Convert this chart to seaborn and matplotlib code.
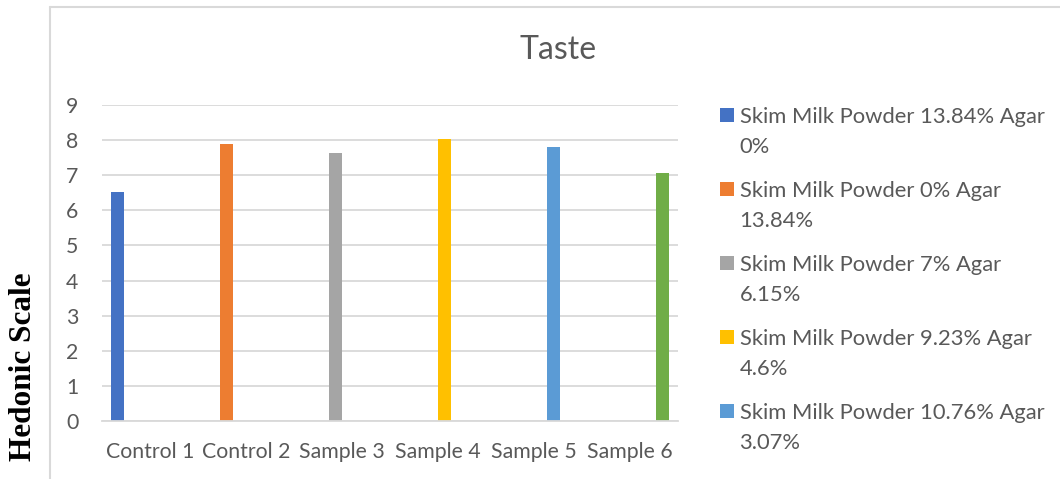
import matplotlib
matplotlib.use("Agg")
import matplotlib.pyplot as plt
from matplotlib.lines import Line2D
from matplotlib.patches import Rectangle
from matplotlib.legend_handler import HandlerPatch
import pandas as pd
import seaborn as sns

# Taste scores (hedonic scale) for each formulation
categories = ["Control 1", "Control 2", "Sample 3", "Sample 4", "Sample 5", "Sample 6"]
series = [
    "Skim Milk Powder 13.84% Agar 0%",
    "Skim Milk Powder 0% Agar 13.84%",
    "Skim Milk Powder 7% Agar 6.15%",
    "Skim Milk Powder 9.23% Agar 4.6%",
    "Skim Milk Powder 10.76% Agar 3.07%",
    "Skim Milk Powder 12.3% Agar 1.54%",
]
legend_labels = [
    "Skim Milk Powder 13.84% Agar\n0%",
    "Skim Milk Powder 0% Agar\n13.84%",
    "Skim Milk Powder 7% Agar\n6.15%",
    "Skim Milk Powder 9.23% Agar\n4.6%",
    "Skim Milk Powder 10.76% Agar\n3.07%",
]
scores = [6.52, 7.89, 7.63, 8.03, 7.81, 7.07]
colors = ["#4472C4", "#ED7D31", "#A5A5A5", "#FFC000", "#5B9BD5", "#70AD47"]

df = pd.DataFrame({"Formulation": categories, "Series": series, "Score": scores})

sns.set_theme(style="white")
plt.rcParams["font.family"] = ["Lato", "DejaVu Sans"]
text_color = "#595959"
grid_color = "#D9D9D9"

fig = plt.figure(figsize=(10.6, 4.79), dpi=100)
ax = fig.add_axes([102 / 1060, 1 - 421 / 479, 576 / 1060, 316 / 479])

sns.barplot(
    data=df, x="Formulation", y="Score", hue="Series",
    order=categories, hue_order=series, palette=colors,
    width=0.81, gap=0, dodge=True, ax=ax, legend=False,
    saturation=1, linewidth=0,
)

ax.set_ylim(0, 9)
ax.set_yticks(range(0, 10))
ax.set_xlim(-0.5, len(categories) - 0.5)
ax.yaxis.grid(True, color=grid_color, linewidth=1.3)
ax.set_axisbelow(True)
for side in ["top", "right", "left"]:
    ax.spines[side].set_visible(False)
ax.spines["bottom"].set_color(grid_color)
ax.spines["bottom"].set_linewidth(1.3)
ax.tick_params(axis="both", length=0, labelsize=15.3, labelcolor=text_color)
ax.tick_params(axis="y", pad=17)
ax.tick_params(axis="x", pad=15)
ax.set_xlabel("")
ax.set_ylabel("")

fig.text(558 / 1060, 1 - 50 / 479, "Taste", ha="center", va="center",
         fontsize=23, color=text_color)

fig.text(24 / 1060, 1 - 367 / 479, "Hedonic Scale", rotation=90,
         ha="center", va="center", fontsize=22.5, fontweight="bold",
         family=["Liberation Serif", "DejaVu Serif"], color="black")

# chart area outline (top and left edges)
x0, y0 = 50 / 1060, 1 - 6.5 / 479
fig.add_artist(Line2D([x0, 1.0], [y0, y0], transform=fig.transFigure,
                      color=grid_color, linewidth=1.5))
fig.add_artist(Line2D([x0, x0], [y0, 0.0], transform=fig.transFigure,
                      color=grid_color, linewidth=1.5))


def top_square(legend, orig_handle, xdescent, ydescent, width, height, fontsize):
    return Rectangle((-xdescent, -ydescent + 12.6), width, width)


handles = [Rectangle((0, 0), 1, 1, facecolor=c, edgecolor="none") for c in colors[:5]]
leg = fig.legend(
    handles, legend_labels, loc="upper left",
    bbox_to_anchor=(720 / 1060, 1 - 107 / 479),
    frameon=False, fontsize=15.8, labelcolor=text_color,
    borderpad=0, borderaxespad=0, handlelength=0.64, handleheight=0.64,
    handletextpad=0.25, labelspacing=1.1,
    handler_map={Rectangle: HandlerPatch(patch_func=top_square)},
)
for t in leg.get_texts():
    t.set_linespacing(1.62)

fig.savefig("out.png", dpi=100)
